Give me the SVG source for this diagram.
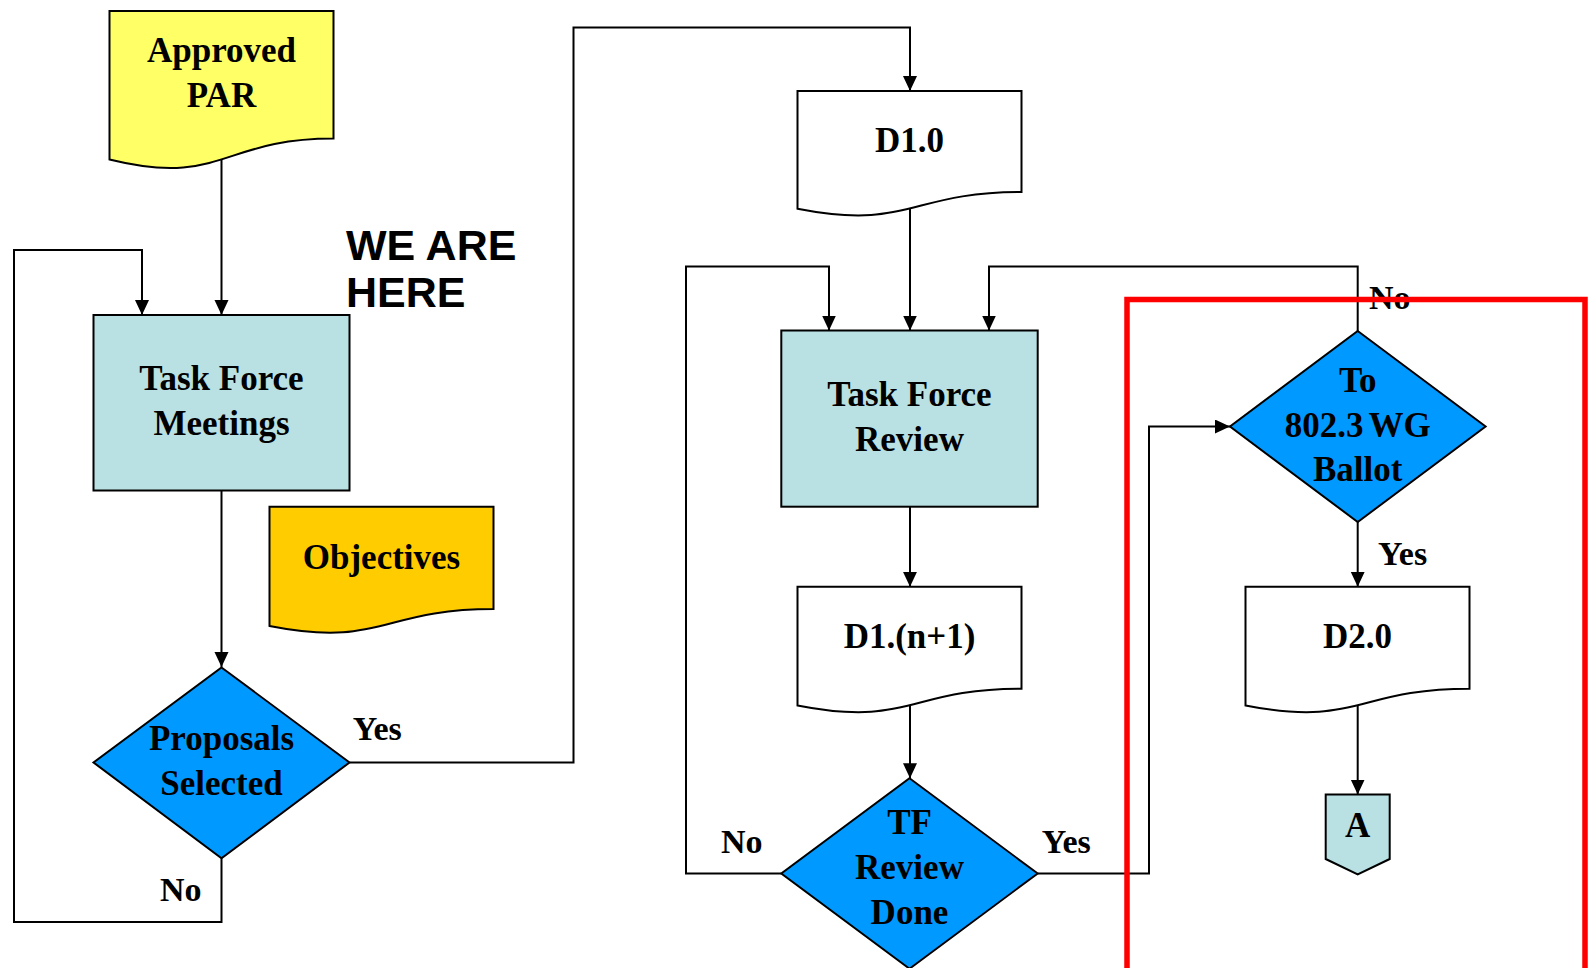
<svg xmlns="http://www.w3.org/2000/svg" width="1589" height="968" viewBox="0 0 1589 968">
<style>
.sh{stroke:#000;stroke-width:2}
.proc{fill:#B9E0E3}
.dec{fill:#0099FF}
.doc{fill:#FFFFFF}
.t{font-family:"Liberation Serif","Times New Roman",serif;font-weight:bold;font-size:35px;fill:#000;text-anchor:middle}
.lb{font-family:"Liberation Serif","Times New Roman",serif;font-weight:bold;font-size:34px;fill:#000}
.big{font-family:"Liberation Sans",Arial,sans-serif;font-weight:bold;font-size:43px;fill:#000}
.c{fill:none;stroke:#000;stroke-width:2}
</style>
<defs>
<marker id="ah" markerUnits="userSpaceOnUse" markerWidth="16" markerHeight="16" refX="15" refY="7" orient="auto">
<path d="M0,0 L15,7 L0,14 Z" fill="#000"/>
</marker>
</defs>
<rect width="1589" height="968" fill="#FFFFFF"/>

<g id="connectors">
<path class="c" d="M221.5,159.5 V315" marker-end="url(#ah)"/>
<path class="c" d="M221.5,858.3 V922 H14 V250 H142 V315" marker-end="url(#ah)"/>
<path class="c" d="M221.5,490.5 V667" marker-end="url(#ah)"/>
<path class="c" d="M349.5,762.5 H573.5 V27.5 H910 V91" marker-end="url(#ah)"/>
<path class="c" d="M910,208.6 V330.5" marker-end="url(#ah)"/>
<path class="c" d="M781.3,873.5 H686 V266.5 H829 V330.5" marker-end="url(#ah)"/>
<path class="c" d="M1357.7,331 V266.5 H989 V330.5" marker-end="url(#ah)"/>
<path class="c" d="M910,506.7 V586.8" marker-end="url(#ah)"/>
<path class="c" d="M910,705.3 V778.3" marker-end="url(#ah)"/>
<path class="c" d="M1037.7,873.5 H1149 V426.5 H1230" marker-end="url(#ah)"/>
<path class="c" d="M1357.7,522 V586.8" marker-end="url(#ah)"/>
<path class="c" d="M1357.7,705.3 V794.5" marker-end="url(#ah)"/>
</g>

<g id="approved-par">
<path class="sh" fill="#FFFF66" d="M109.5,11 H333.5 V138.5 C221.5,138.5 221.5,187.2 109.5,159.5 Z"/>
<text class="t" x="221.5" y="62">Approved</text>
<text class="t" x="221.5" y="107">PAR</text>
</g>

<g id="task-force-meetings">
<rect class="sh proc" x="93.5" y="315" width="256" height="175.5"/>
<text class="t" x="221.5" y="390">Task Force</text>
<text class="t" x="221.5" y="435">Meetings</text>
</g>

<g id="we-are-here">
<text class="big" x="346" y="260">WE ARE</text>
<text class="big" x="346" y="307">HERE</text>
</g>

<g id="objectives">
<path class="sh" fill="#FFCC00" d="M269.5,506.7 H493.5 V609 C381.5,609 381.5,648 269.5,626 Z"/>
<text class="t" x="381.5" y="568.5">Objectives</text>
</g>

<g id="proposals-selected">
<path class="sh dec" d="M221.5,667.5 L349.5,762.5 L221.5,858.3 L93.5,762.5 Z"/>
<text class="t" x="221.5" y="750">Proposals</text>
<text class="t" x="221.5" y="795">Selected</text>
</g>

<g id="d1-0">
<path class="sh doc" d="M797.5,91 H1021.5 V192 C909.5,192 909.5,230.6 797.5,208.7 Z"/>
<text class="t" x="909.5" y="151.7">D1.0</text>
</g>

<g id="task-force-review">
<rect class="sh proc" x="781.3" y="330.5" width="256.4" height="176.2"/>
<text class="t" x="909.5" y="406">Task Force</text>
<text class="t" x="909.5" y="450.7">Review</text>
</g>

<g id="d1-n1">
<path class="sh doc" d="M797.5,586.8 H1021.5 V688.7 C909.5,688.7 909.5,727.5 797.5,705.4 Z"/>
<text class="t" x="909.5" y="647.7">D1.(n+1)</text>
</g>

<g id="tf-review-done">
<path class="sh dec" d="M909.5,778.3 L1037.7,873.5 L909.5,968.7 L781.3,873.5 Z"/>
<text class="t" x="909.5" y="834.3">TF</text>
<text class="t" x="909.5" y="879">Review</text>
<text class="t" x="909.5" y="924">Done</text>
</g>

<g id="wg-ballot">
<path class="sh dec" d="M1357.7,331 L1485.6,426.5 L1357.7,522 L1230,426.5 Z"/>
<text class="t" x="1357.7" y="391.7">To</text>
<text class="t" x="1357.7" y="436.7" word-spacing="-3">802.3 WG</text>
<text class="t" x="1357.7" y="481">Ballot</text>
</g>

<g id="d2-0">
<path class="sh doc" d="M1245.5,586.8 H1469.5 V688.7 C1357.5,688.7 1357.5,727.5 1245.5,705.4 Z"/>
<text class="t" x="1357.5" y="647.7">D2.0</text>
</g>

<g id="connector-a">
<path class="sh proc" d="M1325.7,794.5 H1389.7 V859 L1357.7,874.5 L1325.7,859 Z"/>
<text class="t" x="1357.7" y="836.7">A</text>
</g>

<g id="labels">
<text class="lb" x="352.7" y="740">Yes</text>
<text class="lb" x="160" y="900.5">No</text>
<text class="lb" x="721" y="853.3">No</text>
<text class="lb" x="1041.7" y="853.3">Yes</text>
<text class="lb" x="1369" y="309.3">No</text>
<text class="lb" x="1378" y="565">Yes</text>
</g>

<g id="highlight">
<path d="M1127,975 V299.5 H1585 V975" fill="none" stroke="#FF0000" stroke-width="5.5"/>
</g>
</svg>
